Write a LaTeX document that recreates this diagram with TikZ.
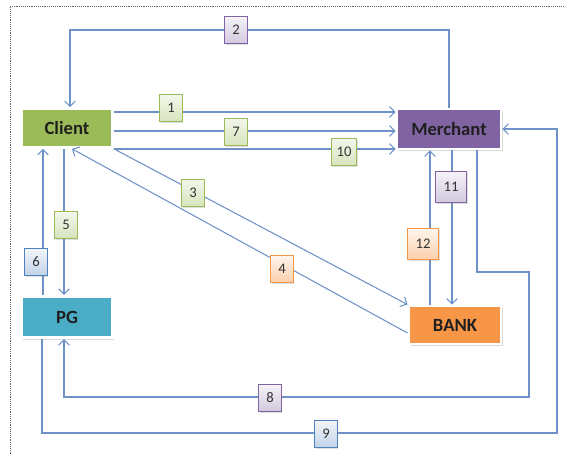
\documentclass[tikz,border=0pt]{standalone}
\usepackage{fontspec}
\setmainfont{Carlito}
\usetikzlibrary{arrows.meta,shadows}

\definecolor{flowblue}{HTML}{6E92C6}
\definecolor{clientcol}{HTML}{9BBB59}
\definecolor{merchantcol}{HTML}{8064A2}
\definecolor{pgcol}{HTML}{4BACC6}
\definecolor{bankcol}{HTML}{F79646}
\definecolor{lblblue}{HTML}{4F81BD}

\tikzset{
  party/.style={rectangle, draw=white, line width=2.2pt, text=black!88,
    font=\fontsize{14}{16}\selectfont\bfseries, minimum height=30pt,
    drop shadow={opacity=0.3, shadow xshift=1.2pt, shadow yshift=-1.5pt}},
  flow/.style={draw=flowblue, line width=0.8pt, -{Straight Barb[length=4pt,width=8pt]}},
  lbl/.style={rectangle, line width=0.8pt, minimum width=17pt, minimum height=20pt,
    inner xsep=4pt, font=\fontsize{11}{13}\selectfont, text=black!80,
    drop shadow={opacity=0.25, shadow xshift=0.8pt, shadow yshift=-1pt}},
  biglbl/.style={lbl, minimum height=23pt, inner xsep=6pt},
  greenlbl/.style={draw=clientcol, top color=clientcol!12, bottom color=clientcol!40},
  purplelbl/.style={draw=merchantcol, top color=merchantcol!8, bottom color=merchantcol!35},
  bluelbl/.style={draw=lblblue, top color=lblblue!8, bottom color=lblblue!35},
  orangelbl/.style={draw=bankcol, top color=bankcol!10, bottom color=bankcol!45},
}

\begin{document}
\begin{tikzpicture}[x=0.75pt, y=-0.75pt]
    \useasboundingbox (0,0) rectangle (564,454);
    \draw[black!60, densely dotted] (10,454) -- (10,6) -- (564,6);

    % parties
    \node[party, fill=clientcol, minimum width=68pt, minimum height=29pt] (client) at (67,128) {Client};
    \node[party, fill=merchantcol, minimum width=78pt] (merchant) at (449,129) {Merchant};
    \node[party, fill=pgcol, minimum width=68pt, minimum height=31pt] (pg) at (67,317) {PG};
    \node[party, fill=bankcol, minimum width=69pt, minimum height=28.5pt] (bank) at (455,325) {BANK};

    % flows
    \draw[flow] (merchant.north) |- (70,30) -- (client.north -| 70,0);
    \draw[flow] (client.east |- 0,112) -- (merchant.west |- 0,112);
    \draw[flow] (client.east |- 0,131) -- (merchant.west |- 0,131);
    \draw[flow] (client.east |- 0,149) -- (merchant.west |- 0,149);
    \draw[flow] (client.south east) -- (bank.north west);
    \draw[flow] (bank.west |- 0,333) -- (client.south -| 72,0);
    \draw[flow] (client.south -| 64,0) -- (pg.north -| 64,0);
    \draw[flow] (pg.north -| 43,0) -- (client.south -| 43,0);
    \draw[flow] (merchant.south -| 452,0) -- (bank.north -| 452,0);
    \draw[flow] (bank.north -| 430,0) -- (merchant.south -| 430,0);
    \draw[flow] (merchant.south -| 477,0) |- (529,272) |- (64,397) -- (pg.south -| 64,0);
    \draw[flow] (pg.south -| 42,0) |- (557,433) |- (merchant.east);

    % step numbers
    \node[lbl, greenlbl] (n1) at (171,108) {1};
    \node[lbl, purplelbl] (n2) at (236,30) {2};
    \node[lbl, greenlbl] (n3) at (193,193) {3};
    \node[lbl, orangelbl] (n4) at (282,269) {4};
    \node[lbl, greenlbl] (n5) at (66,225) {5};
    \node[lbl, bluelbl] (n6) at (36,262) {6};
    \node[lbl, greenlbl] (n7) at (236,132) {7};
    \node[lbl, purplelbl] (n8) at (270,398) {8};
    \node[lbl, bluelbl] (n9) at (326,434) {9};
    \node[lbl, greenlbl] (n10) at (344,152) {10};
    \node[biglbl, purplelbl] (n11) at (451,187) {11};
    \node[biglbl, orangelbl] (n12) at (423,244) {12};
\end{tikzpicture}
\end{document}
